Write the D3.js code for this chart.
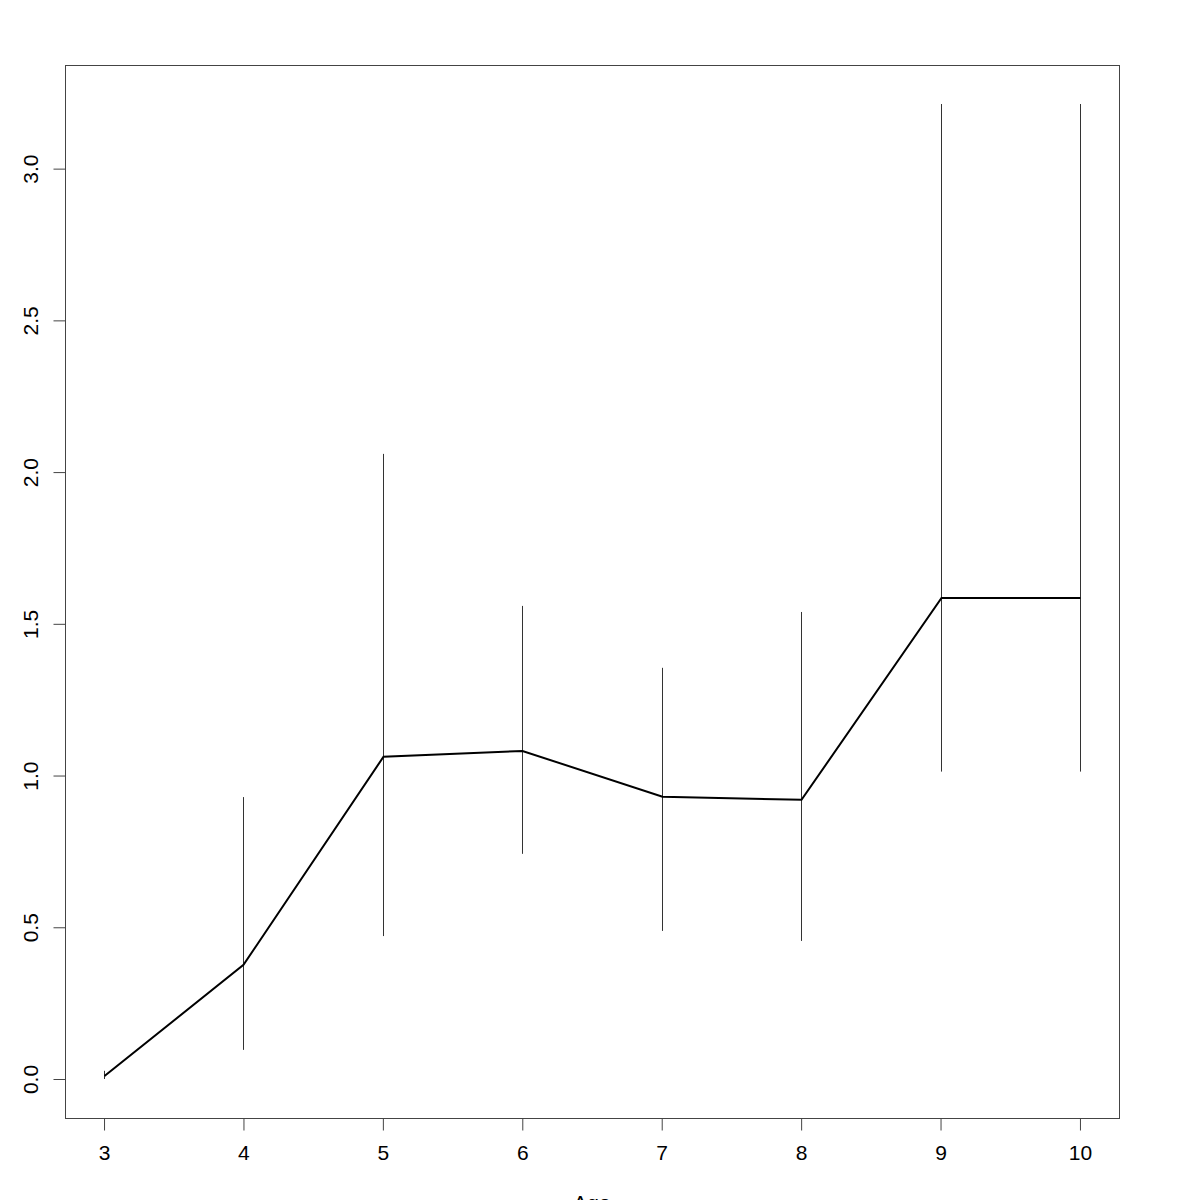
<!DOCTYPE html>
<html>
<head>
<meta charset="utf-8">
<script src="https://cdnjs.cloudflare.com/ajax/libs/d3/7.8.5/d3.min.js"></script>
<style>
  body { margin: 0; background: #fff; }
  svg { display: block; }
</style>
</head>
<body>
<div id="chart"></div>
<script>
// data
var ages = [3, 4, 5, 6, 7, 8, 9, 10];
var means = [0.01, 0.376, 1.062, 1.081, 0.93, 0.92, 1.585, 1.585];
var lower = [0.0, 0.096, 0.471, 0.742, 0.488, 0.455, 1.013, 1.013];
var upper = [0.027, 0.929, 2.06, 1.559, 1.355, 1.539, 3.213, 3.213];
var xTicks = [3, 4, 5, 6, 7, 8, 9, 10];
var yTicks = [0, 0.5, 1, 1.5, 2, 2.5, 3];

var width = 1200, height = 1200;
var plotLeft = 65, plotRight = 1119, plotTop = 65, plotBottom = 1118;
var fontSize = 21;
var fontFamily = "Liberation Sans, Arial, sans-serif";

var svg = d3.select("#chart").append("svg")
    .attr("width", width)
    .attr("height", height);

// R style 4% padding
var xmin = d3.min(ages), xmax = d3.max(ages);
var xpad = (xmax - xmin) * 0.04;
var x = d3.scaleLinear().domain([xmin - xpad, xmax + xpad]).range([plotLeft, plotRight]);

var ymin = d3.min(lower), ymax = d3.max(upper);
var ypad = (ymax - ymin) * 0.04;
var y = d3.scaleLinear().domain([ymin - ypad, ymax + ypad]).range([plotBottom, plotTop]);

var rows = ages.map(function (a, i) {
    return {age: a, mean: means[i], lo: lower[i], hi: upper[i]};
});

// error bars
svg.append("g")
    .selectAll("line")
    .data(rows)
    .enter()
    .append("line")
    .attr("x1", function (d) { return Math.round(x(d.age)) + 0.5; })
    .attr("x2", function (d) { return Math.round(x(d.age)) + 0.5; })
    .attr("y1", function (d) { return y(d.lo); })
    .attr("y2", function (d) { return y(d.hi); })
    .attr("stroke", "#333")
    .attr("stroke-width", 1);

// mean line
var line = d3.line()
    .x(function (d) { return Math.round(x(d.age)) + 0.5; })
    .y(function (d) { return y(d.mean); });

svg.append("path")
    .datum(rows)
    .attr("d", line)
    .attr("fill", "none")
    .attr("stroke", "#000")
    .attr("stroke-width", 2);

// box
svg.append("rect")
    .attr("x", plotLeft + 0.5)
    .attr("y", plotTop + 0.5)
    .attr("width", plotRight - plotLeft)
    .attr("height", plotBottom - plotTop)
    .attr("fill", "none")
    .attr("stroke", "#444")
    .attr("stroke-width", 1);

// x axis
var xAxis = svg.append("g")
    .attr("transform", "translate(0," + (plotBottom + 0.5) + ")")
    .call(d3.axisBottom(x).tickValues(xTicks).tickSize(12).tickPadding(15)
        .tickFormat(d3.format("d")).tickSizeOuter(0));
xAxis.select(".domain")
    .attr("d", "M" + x(xTicks[0]) + ",0H" + x(xTicks[xTicks.length - 1]))
    .attr("stroke", "#444");
xAxis.selectAll(".tick line").attr("stroke", "#444");
xAxis.selectAll("text")
    .attr("font-family", fontFamily)
    .attr("font-size", fontSize)
    .attr("fill", "#000");

// y axis
var yAxis = svg.append("g")
    .attr("transform", "translate(" + (plotLeft + 0.5) + ",0)")
    .call(d3.axisLeft(y).tickValues(yTicks).tickSize(12)
        .tickFormat(d3.format(".1f")).tickSizeOuter(0));
yAxis.select(".domain")
    .attr("d", "M0," + y(yTicks[0]) + "V" + y(yTicks[yTicks.length - 1]))
    .attr("stroke", "#444");
yAxis.selectAll(".tick line").attr("stroke", "#444");
yAxis.selectAll("text")
    .attr("font-family", fontFamily)
    .attr("font-size", fontSize)
    .attr("fill", "#000")
    .attr("x", null)
    .attr("dy", null)
    .attr("text-anchor", "middle")
    .attr("transform", "translate(-28,0) rotate(-90)");

// x axis title (cut off at the bottom edge as in the reference)
svg.append("text")
    .attr("x", (plotLeft + plotRight) / 2)
    .attr("y", 1210)
    .attr("text-anchor", "middle")
    .attr("font-family", fontFamily)
    .attr("font-size", fontSize)
    .text("Age");
</script>
</body>
</html>
